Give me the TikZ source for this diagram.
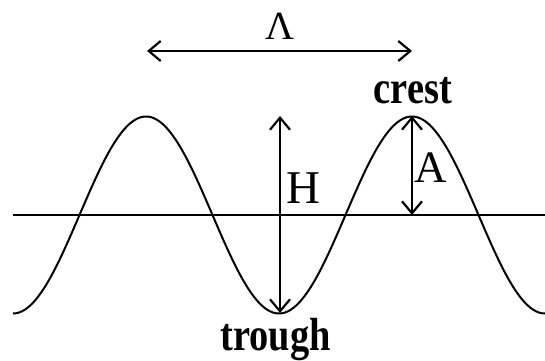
\documentclass[tikz,border=0pt]{standalone}
\usepackage{fontspec}
\setmainfont{Liberation Serif}
\usetikzlibrary{arrows.meta}
\newcommand{\tallword}[1]{\scalebox{0.96}[1.16]{#1}}
\begin{document}
\begin{tikzpicture}[x=1pt,y=1pt,
  wave/.style={line width=2pt},
  axisline/.style={line width=1.9pt},
  dimarrow/.style={line width=1.9pt,{Straight Barb[length=12pt,width=20pt,line width=2.2pt]}-{Straight Barb[length=12pt,width=20pt,line width=2.2pt]}},
  lbl/.style={inner sep=0pt,anchor=base},
  bigsym/.style={lbl,font=\fontsize{47}{50}\selectfont},
  word/.style={lbl,font=\fontsize{40}{42}\selectfont\bfseries}]
\useasboundingbox (0,0) rectangle (545,360);
% reference points
\coordinate (axL) at (13,145);
\coordinate (axR) at (545,145);
\coordinate (crest2) at (412,244);
\coordinate (trough) at (280,47);
\coordinate (axA) at (412,145);
\coordinate (lamL) at (147,309);
\coordinate (lamR) at (412,309);
% axis
\draw[axisline] (axL) -- (axR);
% wave
\draw[wave] plot[domain=13:545,samples=240,smooth] (\x,{145+98.5*cos((\x-146)*1.353383)});
% arrows
\draw[dimarrow] (lamL) -- (lamR);
\draw[dimarrow] (trough |- crest2) -- (trough);
\draw[dimarrow] (crest2) -- (axA);
% labels
\node[lbl,font=\fontsize{40}{42}\selectfont] (lam) at (279.5,321) {Λ};
\node[bigsym] (H) at (303,157) {H};
\node[bigsym,font=\fontsize{45}{48}\selectfont] (A) at (430.5,178) {A};
\node[word] (crest) at (413,257) {\tallword{crest}};
\node[word] (troughlbl) at (275.5,10) {\tallword{trough}};
\end{tikzpicture}
\end{document}
